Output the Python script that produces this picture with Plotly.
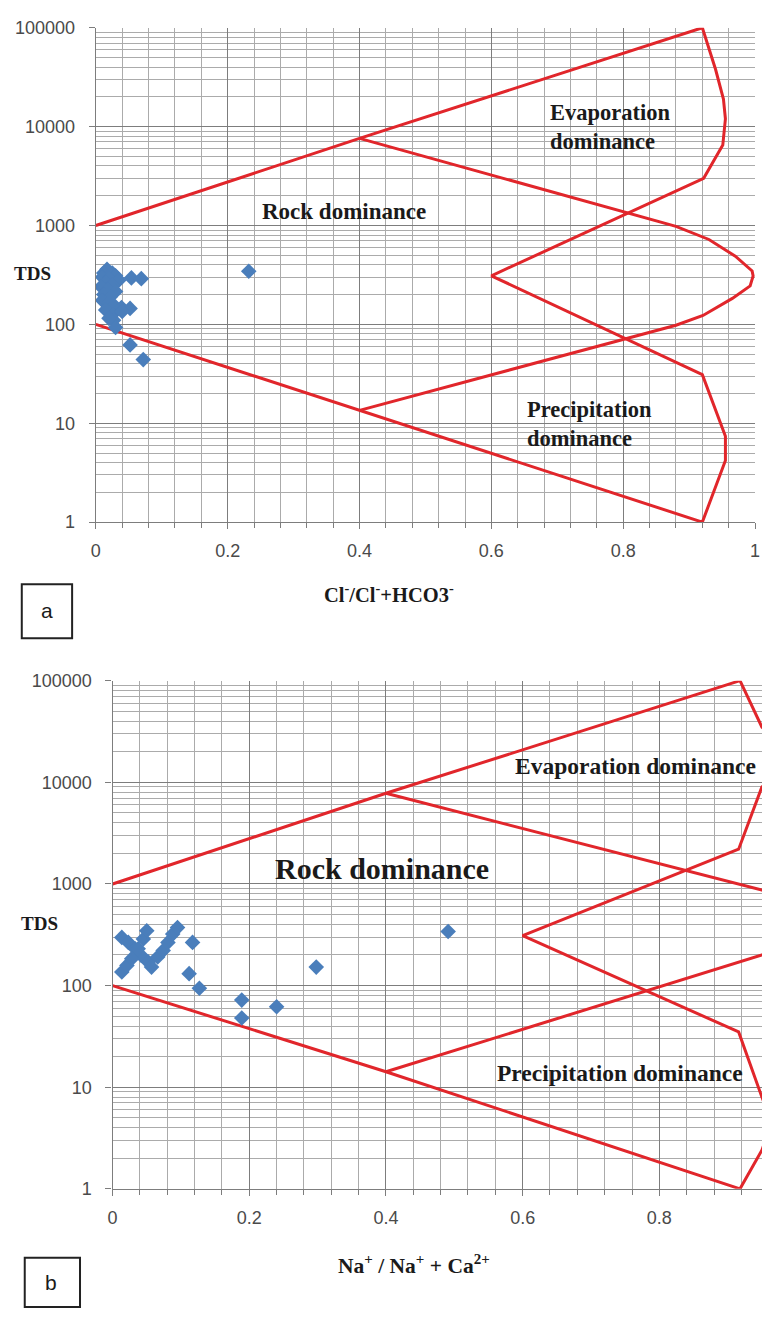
import math
import plotly.graph_objects as go

W, H = 767, 1320

# ---------------- data ----------------
# Panel a: Cl/(Cl+HCO3) vs TDS
a_ratio = [0.017, 0.012, 0.025, 0.030, 0.010, 0.020, 0.035, 0.015, 0.025, 0.008,
           0.018, 0.030, 0.012, 0.022, 0.010, 0.020, 0.028, 0.039, 0.052, 0.015,
           0.025, 0.027, 0.030, 0.054, 0.069, 0.052, 0.072, 0.232, 0.040, 0.020]
a_tds = [360, 330, 330, 310, 300, 290, 280, 265, 250, 240,
         225, 215, 200, 190, 175, 165, 155, 148, 145, 140,
         125, 110, 93, 295, 290, 62, 44, 345, 135, 115]

# Panel b: Na/(Na+Ca) vs TDS
b_ratio = [0.0135, 0.023, 0.033, 0.042, 0.052, 0.057, 0.0135, 0.021, 0.028, 0.0375,
           0.045, 0.050, 0.066, 0.074, 0.081, 0.088, 0.095, 0.117, 0.112, 0.127,
           0.189, 0.189, 0.240, 0.298, 0.491]
b_tds = [298, 266, 230, 198, 171, 152, 136, 158, 184, 230,
         287, 346, 191, 221, 266, 321, 372, 266, 131, 94,
         72, 48, 62, 152, 340]

# Gibbs boundary outlines (vertices)
a_outer_x = [0, 0.40, 0.92, 0.940, 0.952, 0.955, 0.951, 0.922, 0.60, 0.92, 0.955, 0.955, 0.92, 0.40, 0]
a_outer_y = [1000, 7600, 100000, 38000, 19000, 12000, 6500, 3000, 310, 31, 7.4, 4.2, 1, 13.5, 100]
a_loop_x = [0.40, 0.88, 0.930, 0.970, 0.9955, 0.997, 0.9925, 0.9655, 0.921, 0.88, 0.40]
a_loop_y = [7600, 980, 722, 489, 347, 309, 245, 183, 123, 98, 13.5]

b_outer_x = [0, 0.40, 0.918, 0.95, 0.985, 0.99, 0.95, 0.916, 0.60, 0.916, 0.95, 0.965, 0.95, 0.918, 0.40, 0]
b_outer_y = [1000, 7800, 100000, 35000, 20000, 14000, 9000, 2200, 310, 35, 8, 4.5, 2.4, 1, 14.2, 100]
b_loop_x = [0.40, 0.95, 1.00, 1.04, 1.00, 0.95, 0.40]
b_loop_y = [7800, 870, 700, 400, 280, 200, 14.2]

y_tickvals = [1, 10, 100, 1000, 10000, 100000]
y_ticktext = ["1", "10", "100", "1000", "10000", "100000"]

# ---------------- styling ----------------
RED = "#E1262B"
BLUE = "#4A7EBB"
SERIF = "Liberation Serif, Times New Roman, serif"
SANS = "Liberation Sans, Arial, sans-serif"
GRID_MAJ = "#7d7d7d"
GRID_MIN = "#ababab"


def px_x(p):
    return p / W


def px_y(p):
    return 1 - p / H


fig = go.Figure()

for (xs, ys, xa, ya) in [(a_outer_x, a_outer_y, "x", "y"), (a_loop_x, a_loop_y, "x", "y"),
                         (b_outer_x, b_outer_y, "x2", "y2"), (b_loop_x, b_loop_y, "x2", "y2")]:
    fig.add_trace(go.Scatter(x=xs, y=ys, mode="lines", xaxis=xa, yaxis=ya,
                             line=dict(color=RED, width=3), hoverinfo="skip", showlegend=False))

fig.add_trace(go.Scatter(x=a_ratio, y=a_tds, mode="markers", xaxis="x", yaxis="y",
                         marker=dict(symbol="diamond", size=12, color=BLUE), showlegend=False))
fig.add_trace(go.Scatter(x=b_ratio, y=b_tds, mode="markers", xaxis="x2", yaxis="y2",
                         marker=dict(symbol="diamond", size=12, color=BLUE), showlegend=False))


def xaxis_cfg(domain, rng, anchor):
    return dict(domain=domain, range=rng, anchor=anchor, tick0=0, dtick=0.2,
                showgrid=True, gridcolor=GRID_MAJ, gridwidth=1.2,
                minor=dict(dtick=0.04, showgrid=True, gridcolor=GRID_MIN, gridwidth=1,
                           ticks="outside", ticklen=5, tickcolor=GRID_MAJ),
                ticks="outside", ticklen=6, tickcolor=GRID_MAJ,
                showline=True, linecolor=GRID_MAJ, linewidth=1.2, zeroline=False,
                tickfont=dict(family=SANS, size=18, color="#4a4a4a"),
                ticklabelstandoff=6, fixedrange=True)


def yaxis_cfg(domain, anchor):
    return dict(domain=domain, type="log", range=[0, 5], anchor=anchor,
                tickmode="array", tickvals=y_tickvals, ticktext=y_ticktext,
                showgrid=True, gridcolor=GRID_MAJ, gridwidth=1.2,
                minor=dict(dtick="D1", showgrid=True, gridcolor=GRID_MIN, gridwidth=1, ticks=""),
                ticks="outside", ticklen=6, tickcolor=GRID_MAJ,
                showline=True, linecolor=GRID_MAJ, linewidth=1.2, zeroline=False,
                tickfont=dict(family=SANS, size=18, color="#4a4a4a"),
                ticklabelstandoff=10, fixedrange=True)


b_xmax = (W - 109) / 692.5

fig.update_layout(
    width=W, height=H, margin=dict(l=0, r=0, t=0, b=0),
    paper_bgcolor="white", plot_bgcolor="white", showlegend=False,
    xaxis=xaxis_cfg([px_x(92), px_x(760)], [0, 1], "y"),
    yaxis=yaxis_cfg([px_y(520), px_y(18)], "x"),
    xaxis2=xaxis_cfg([px_x(109), 1.0], [0, b_xmax], "y2"),
    yaxis2=yaxis_cfg([px_y(1197), px_y(681)], "x2"),
)

ann = []


def text(x, y, s, size, xref="paper", yref="paper", xanchor="center", align="center", family=SERIF):
    ann.append(dict(x=x, y=y, xref=xref, yref=yref, text=s, showarrow=False,
                    xanchor=xanchor, yanchor="middle", align=align,
                    font=dict(family=family, size=size, color="#1a1a1a")))


# panel a labels
text(0.376, math.log10(1380), "<b>Rock dominance</b>", 23, "x", "y")
text(0.686, math.log10(10000), "<b>Evaporation<br>dominance</b>", 22.5, "x", "y", "left", "left")
text(0.651, math.log10(9.9), "<b>Precipitation<br>dominance</b>", 22.5, "x", "y", "left", "left")
text(px_x(28), px_y(268), "<b>TDS</b>", 19)
text(px_x(389), px_y(592), "<b>Cl<sup>-</sup>/Cl<sup>-</sup>+HCO3<sup>-</sup></b>", 20.5)

# panel b labels
text(0.394, 3.15, "<b>Rock dominance</b>", 30, "x2", "y2")
text(0.586, 4.157, "<b>Evaporation dominance</b>", 23.5, "x2", "y2", "left", "left")
text(0.560, 1.143, "<b>Precipitation dominance</b>", 23.5, "x2", "y2", "left", "left")
text(px_x(35), px_y(928), "<b>TDS</b>", 19)
text(px_x(414), px_y(1274), "<b>Na<sup>+</sup> / Na<sup>+</sup> + Ca<sup>2+</sup></b>", 21.5)

# panel letters in boxes
text(px_x(42.5), px_y(610), "a", 21, family=SANS)
text(px_x(47), px_y(1292), "b", 21, family=SANS)

fig.update_layout(annotations=ann, shapes=[
    dict(type="rect", xref="paper", yref="paper", x0=px_x(17), x1=px_x(68),
         y0=px_y(638), y1=px_y(583), line=dict(color="#222", width=2)),
    dict(type="rect", xref="paper", yref="paper", x0=px_x(20), x1=px_x(76),
         y0=px_y(1317), y1=px_y(1267), line=dict(color="#222", width=2)),
])

fig.write_html("out.html")
